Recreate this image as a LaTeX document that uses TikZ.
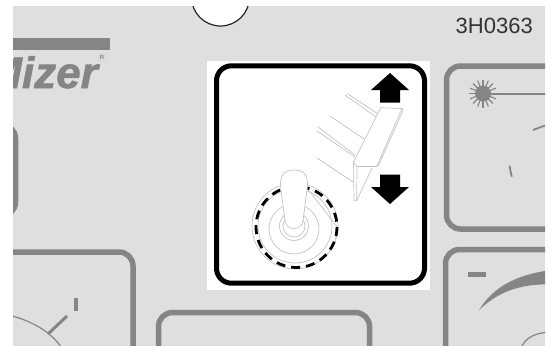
\documentclass[tikz,border=0pt]{standalone}
\usepackage{fontspec}
\setmainfont{Liberation Sans}
\newfontfamily\logofont[BoldItalicFeatures={FakeBold=1.2}]{Liberation Sans}
\definecolor{panel}{HTML}{DFDFDF}
\definecolor{ink}{HTML}{858585}
\definecolor{faint}{HTML}{C4C4C4}
\tikzset{
  panelbox/.style={draw=ink,line width=5.5pt,rounded corners=14pt},
  thin line/.style={draw=faint,line width=0.7pt},
  bigarrow/.style={fill=black,draw=none}
}
\begin{document}
\begin{tikzpicture}[x=1pt,y=-1pt]
\useasboundingbox (0,0) rectangle (550,346);
\fill[white] (0,0) rectangle (550,346);
\begin{scope}
\clip (13,6) rectangle (545,346);
\fill[panel] (13,6) rectangle (545,346);
% top circle
\draw[fill=white,draw=black!85,line width=1.2pt] (220.500,-3) circle (29);
% logo bar and wordmark
\fill[ink] (0,38) rectangle (110,50);
\node[anchor=base east,inner sep=0pt,text=ink,font=\fontsize{44}{44}\logofont\bfseries\itshape\selectfont] (logo) at (98,88) {Mizer};
\node[circle,draw=ink!40,line width=0.4pt,inner sep=0.8pt,text=ink,font=\fontsize{6}{6}\selectfont\bfseries] (reg) at (102,57.500) {R};
% left pill
\draw[panelbox] (-20,124.500) rectangle (15.500,216);
% lower-left panel
\draw[panelbox] (-20,252) rectangle (133,400);
\draw[ink,line width=1.2pt] (0,313) .. controls (25,318) and (48,328) .. (62,348);
\draw[ink,line width=3pt] (48,334) -- (67,316);
\draw[ink,line width=3.500pt] (76,298) -- (76,311);
% lower-centre panel
\draw[panelbox] (158.500,312.500) rectangle (369.500,400);
% right-upper panel
\draw[panelbox] (446.500,66) rectangle (600,229);
\draw[ink,line width=2pt] (483,93.500) -- (560,93.500);
\foreach \a in {0,22.5,...,337.5}{\draw[ink,line width=1.1pt] (483,93.500) -- ++(\a:14);}
\fill[ink] (483,93.500) circle (8);
\draw[ink,line width=1.800pt] (533,130) -- (545,125.500);
\draw[ink,line width=1.800pt] (509.500,165.700) -- (511.700,176.700);
% right-lower panel
\draw[panelbox] (445.500,249.500) rectangle (600,400);
\fill[ink] (468,271.700) rectangle (486,277.300);
\fill[ink] (479,310) .. controls (494,286) and (518,273) .. (560,269) -- (560,285) .. controls (525,282) and (500,290) .. cycle;
\draw[ink,line width=1.200pt] (522,346) .. controls (527,337) and (535,333) .. (550,332);
\end{scope}
% code
\node[anchor=base east,inner sep=0pt,text=black!80,font=\fontsize{22}{22}\selectfont] (code) at (533,33) {3H0363};
% central white sign
\fill[white] (207,61) rectangle (430,290);
\draw[black,line width=5pt,rounded corners=15pt] (216.500,65.800) rectangle (424.500,283.200);
% up arrow, down arrow
\fill[bigarrow] (390,73) -- (409,90) -- (400,90) -- (400,102.500) -- (380,102.500) -- (380,90) -- (371,90) -- cycle;
\fill[bigarrow] (390,204) -- (409,187) -- (400,187) -- (400,174.500) -- (380,174.500) -- (380,187) -- (371,187) -- cycle;
% motion lines
\draw[thin line] (345,95) -- (376,117);
\draw[thin line] (348,94) -- (378,114);
\draw[thin line] (330,116) -- (364,139);
\draw[thin line] (318,127) -- (355,155);
\draw[thin line] (317,131) -- (355,157);
\draw[thin line] (317,158) -- (353,182);
% switch lever
\draw[thin line,line join=round] (353.500,162) -- (380.700,107.700) -- (402,108.500) -- (376.700,166.500) -- (357,166.500) -- cycle;
\draw[thin line] (402,108.500) -- (403,110.500) -- (378.500,165.500) -- (376.700,166.500);
\draw[thin line] (353.500,162) -- (354,200.700) -- (356.700,200.700) -- (372,168);
\draw[thin line] (357,166.500) -- (356.700,200.700);
% toggle
\draw[thin line] (295,226) circle (43);
\draw[thin line] (295,226) circle (37);
\draw[thin line] (294,229) circle (25);
\draw[thin line] (294,226) circle (14.500);
\draw[thin line] (294,226) circle (11);
\draw[thin line] (307,188) -- (338,228) -- (335,240);
\draw[black,line width=2.800pt,dash pattern=on 9pt off 6pt] (296.500,227) circle (40.500);
\filldraw[fill=white,draw=faint,line width=0.700pt] (285,221) .. controls (286,231) and (302,231) .. (303,221) -- (307,190) .. controls (309,176) and (305,170) .. (294,170) .. controls (283,170) and (279,176) .. (281,190) -- cycle;
\end{tikzpicture}
\end{document}
